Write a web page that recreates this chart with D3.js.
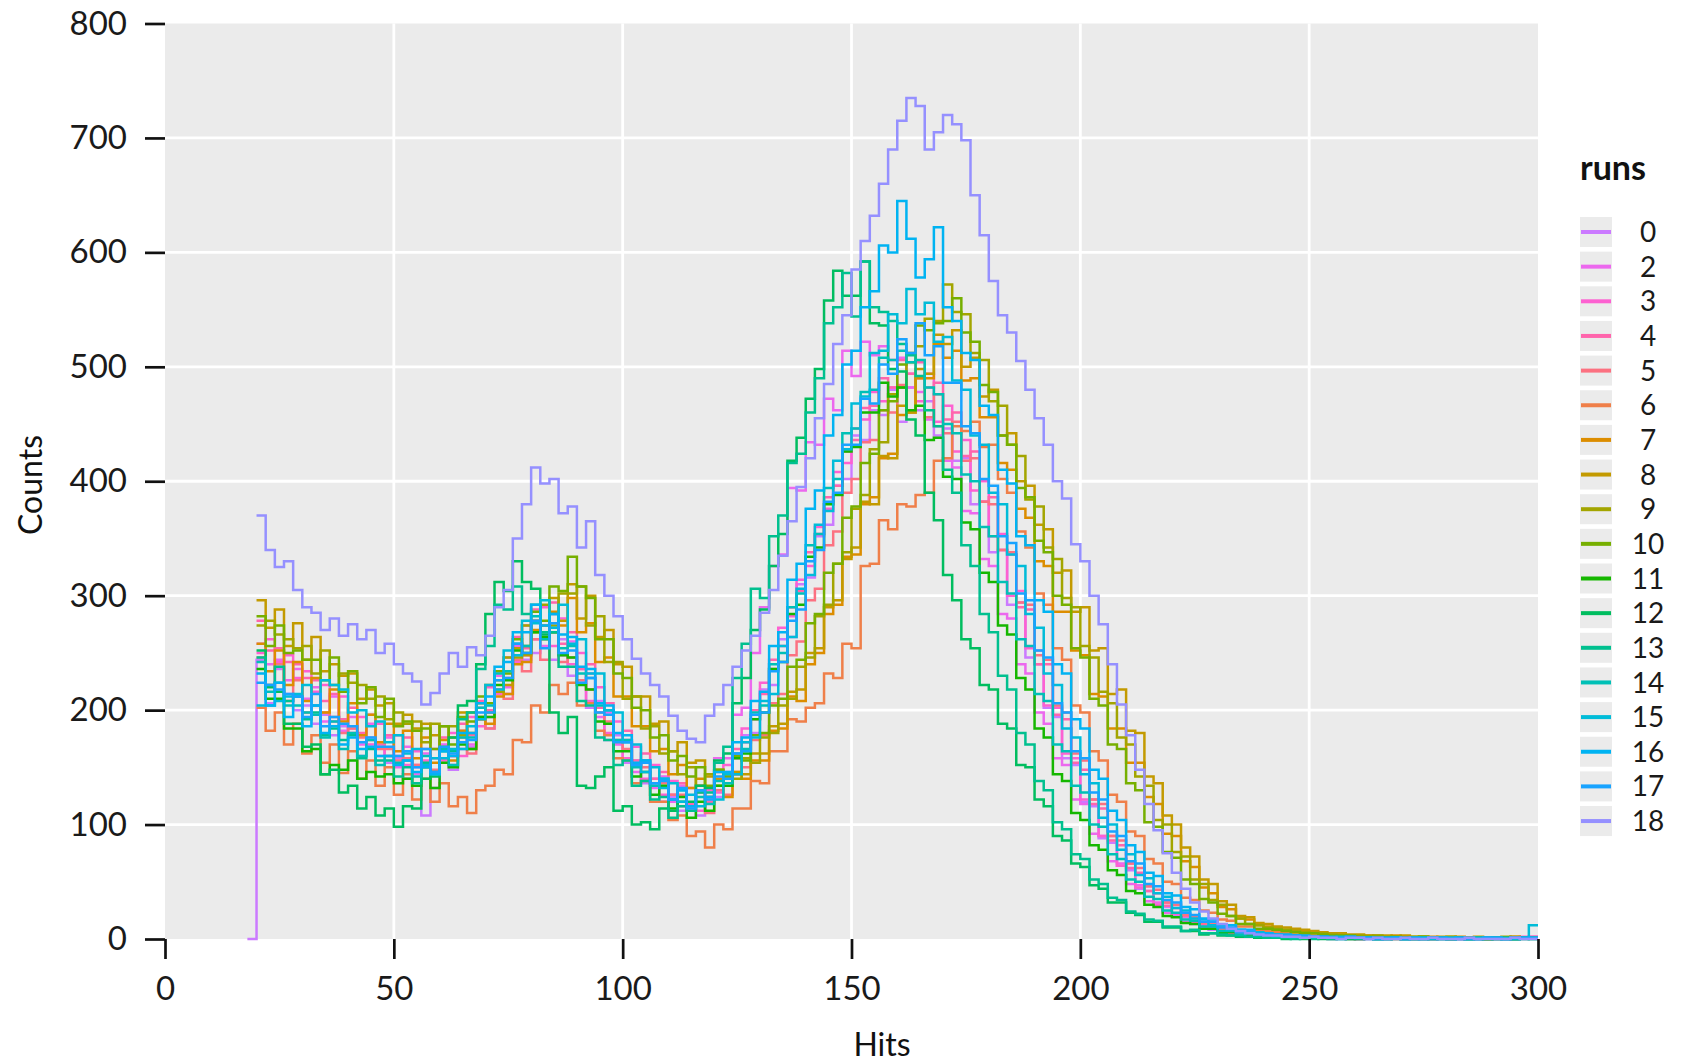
<!DOCTYPE html>
<html><head><meta charset="utf-8">
<script src="https://cdn.jsdelivr.net/npm/d3@7"></script>
<style>
body{margin:0;background:#fff}
svg{display:block}
text{font-family:Lato,"DejaVu Sans",sans-serif}
</style></head>
<body><svg id="c" width="1684" height="1062"></svg>
<script>
// ---- data ----
const runs = ["0","2","3","4","5","6","7","8","9","10","11","12","13","14","15","16","17","18"];
const runHues = [287,307,327,347,7,27,47,67,87,107,127,147,167,187,207,227,247,267];
const binStarts = [18,20,20,20,20,20,20,20,20,20,20,20,20,20,20,20,20,20];
const binWidth = 2;
const xTicks = [0,50,100,150,200,250,300];
const yTicks = [0,100,200,300,400,500,600,700,800];

const run0 = [0,
244,206,236,214,200,204,188,196,178,186,
184,160,176,168,154,158,140,150,108,132,
158,148,166,168,194,184,218,214,248,244,
250,274,244,262,230,236,202,208,174,178,
154,156,136,140,120,124,112,118,108,122,
124,146,144,178,180,218,222,262,264,310,
316,352,362,396,402,440,436,462,458,480,
452,482,462,470,440,446,418,420,380,382,
338,340,292,294,246,240,202,194,158,152,
120,116,88,84,64,60,44,42,30,28,
20,19,13,12,8,9,5,6,3,4,
3,2,2,2,1,2,1,1,1,0,1,1,0,1,1,0,1,0,1,1,0,0,1,1,0,1,0,1,1,2];
const run2 = [
258,240,244,226,236,210,220,190,212,182,
194,170,188,160,176,150,168,144,162,146,
170,152,182,170,202,194,230,220,256,248,
278,256,284,248,260,224,232,194,198,170,
174,146,156,132,142,120,134,116,130,124,
158,158,196,202,250,290,326,336,394,392,
434,432,472,462,514,492,522,510,518,506,
508,482,478,454,448,418,412,374,372,332,
326,284,280,240,232,198,188,158,152,122,
118,92,90,68,66,48,47,33,32,23,
22,15,14,10,10,6,7,4,5,3,
2,3,2,1,2,1,1,0,1,1,1,0,0,1,1,0,1,0,0,1,1,0,1,0,0,1,1,0,1,1];
const run3 = [
250,262,242,248,228,234,216,222,190,212,
180,194,170,188,160,178,152,164,156,166,
156,180,160,194,186,220,214,246,242,274,
262,290,256,280,240,250,208,220,180,190,
158,168,140,152,126,138,116,132,112,130,
128,152,158,184,192,224,236,272,282,314,
326,360,376,408,416,446,454,478,470,482,
482,494,470,494,452,466,426,436,392,400,
352,354,300,304,254,252,204,202,162,158,
122,122,90,90,64,66,45,46,30,32,
22,21,14,14,9,10,5,7,4,4,
3,2,3,2,1,2,1,1,2,1,0,1,1,0,1,1,0,1,0,1,0,1,1,0,1,0,0,1,2,1];
const run4 = [
278,252,254,242,240,228,226,208,214,192,
202,180,196,170,178,160,176,152,166,158,
176,160,188,178,208,200,234,228,264,254,
288,264,294,258,268,236,240,202,206,174,
182,156,162,140,146,126,136,118,134,120,
146,144,166,172,200,214,244,256,290,304,
338,354,386,396,426,436,464,466,490,482,
506,494,504,482,486,454,460,422,426,382,
386,340,336,290,288,240,240,196,192,154,
148,118,114,86,82,62,58,42,40,29,
27,20,18,13,12,8,8,5,5,4,
3,3,2,2,2,1,1,2,1,1,0,1,1,1,0,1,0,1,1,0,0,1,0,1,1,0,1,0,1,2];
const run5 = [
246,222,240,208,226,198,204,198,194,180,
184,176,174,166,166,156,158,152,154,148,
158,160,176,162,192,184,218,210,244,234,
262,244,268,242,246,226,218,198,190,172,
166,152,150,134,136,126,126,112,128,110,
130,126,146,150,174,178,206,214,248,260,
296,306,344,356,390,402,434,436,462,460,
484,462,490,456,476,442,452,418,420,382,
380,340,338,294,292,248,244,204,198,162,
156,122,118,90,86,66,62,46,43,32,
30,21,19,14,13,9,9,5,6,4,
3,3,2,2,1,2,1,1,1,1,0,1,1,0,1,0,1,1,0,1,0,0,1,1,0,1,0,1,1,1];
const run6 = [
202,182,198,170,188,162,178,154,170,145,
164,140,156,134,150,126,144,122,140,120,
136,116,124,110,130,134,148,144,174,172,
204,198,222,214,224,204,206,182,178,158,
156,136,138,120,120,104,108,90,94,80,
100,96,114,114,138,136,164,164,192,190,
202,206,232,228,258,254,326,328,366,358,
380,378,388,390,418,420,448,444,452,430,
432,402,390,356,342,302,292,254,244,204,
198,164,156,126,120,94,90,70,66,50,
48,36,34,25,23,17,16,11,11,7,
7,6,5,4,4,3,3,2,3,2,2,1,2,1,1,2,1,1,0,1,1,1,0,1,0,1,1,0,1,1];
const run7 = [
258,234,252,222,242,208,228,198,218,190,
206,178,196,172,188,164,182,158,176,154,
174,156,182,166,192,188,212,214,240,242,
270,262,286,274,298,268,276,242,246,212,
212,186,186,164,166,144,152,132,140,124,
140,124,144,140,156,156,182,184,212,208,
240,250,284,292,334,336,380,386,420,424,
458,460,490,490,520,508,514,488,490,456,
456,416,410,376,368,330,326,286,286,252,
248,214,212,184,184,154,154,124,118,92,
90,68,63,45,40,28,26,18,17,12,
11,10,8,7,6,6,5,4,4,3,3,3,2,2,3,2,1,2,2,1,1,2,1,1,0,1,1,2,1,1];
const run8 = [
296,272,288,256,276,244,264,234,240,230,
232,210,218,204,206,188,196,184,188,178,
186,176,198,180,206,198,226,222,254,248,
278,274,298,278,310,280,300,264,270,240,
238,212,212,188,190,164,172,154,156,142,
148,142,146,144,162,162,186,188,216,218,
250,254,290,296,332,342,382,380,422,420,
466,460,498,494,528,520,532,500,508,474,
480,440,442,400,396,362,358,320,322,286,
290,252,254,214,218,182,180,142,136,108,
100,80,72,52,48,33,30,20,19,14,
13,11,10,9,8,7,6,5,5,4,4,3,3,3,2,3,2,2,1,2,2,1,1,2,1,1,1,2,1,1];
const run9 = [
274,278,266,262,254,256,232,252,222,232,
224,222,210,212,192,198,188,190,172,188,
168,186,178,198,194,222,216,246,246,274,
268,292,274,302,302,308,274,282,242,242,
210,212,184,186,162,164,144,150,134,144,
134,140,140,158,154,176,180,204,210,238,
246,282,292,328,338,376,388,428,434,476,
482,512,518,542,540,572,548,546,512,506,
470,466,432,422,384,378,342,332,298,290,
256,246,216,206,176,170,142,134,104,100,
76,72,52,48,34,30,20,18,13,12,
10,9,8,7,6,5,5,4,3,3,3,2,3,2,2,1,2,2,1,1,2,1,1,1,0,1,2,1,1,1];
const run10 = [
282,256,274,250,252,244,244,226,246,216,
234,206,220,194,210,186,190,182,184,166,
186,170,194,190,212,206,234,232,262,256,
286,278,308,304,334,308,298,262,262,232,
228,202,200,176,178,156,160,142,150,134,
148,142,160,156,178,180,204,210,238,244,
276,284,320,328,368,378,416,424,462,470,
502,504,536,532,538,540,560,530,522,484,
478,440,432,394,386,348,338,300,292,254,
246,210,204,170,166,136,130,102,98,76,
71,52,48,35,32,22,20,13,13,9,
9,8,7,6,5,5,4,3,3,3,2,2,2,1,2,1,1,2,1,1,0,1,1,1,0,1,1,1,0,1];
const run11 = [
236,210,210,184,184,164,166,144,152,148,
156,140,146,142,144,136,140,134,150,132,
154,150,170,166,194,194,222,226,252,250,
268,264,268,248,246,222,218,190,188,164,
164,142,146,126,134,114,124,106,120,112,
134,134,158,162,192,198,236,242,284,292,
334,342,380,388,426,430,460,460,486,474,
482,462,466,436,438,404,402,364,358,320,
312,274,266,228,218,184,176,144,138,110,
104,82,78,60,56,42,40,30,28,20,
19,14,13,9,9,5,6,3,4,2,
2,2,2,1,1,1,2,1,1,0,1,1,0,1,0,1,0,0,1,1,0,1,0,1,0,0,1,0,1,1];
const run12 = [
252,220,216,188,188,168,170,144,148,128,
134,114,124,108,114,98,116,114,140,142,
166,176,204,208,240,284,312,304,330,312,
306,266,198,180,194,134,132,142,150,112,
116,100,102,96,114,112,120,120,134,132,
156,162,206,228,270,288,326,354,418,438,
472,498,558,584,562,562,592,538,536,498,
496,454,440,390,366,318,296,262,254,222,
218,188,184,152,150,122,116,90,86,66,
63,47,44,32,32,23,21,15,15,10,
10,7,7,4,5,3,3,2,2,1,
1,1,0,1,0,1,0,0,1,0,0,1,0,0,1,0,0,0,1,0,0,1,0,0,0,1,0,0,1,0];
const run13 = [
246,222,238,208,212,192,198,178,184,174,
178,158,166,156,156,142,150,136,154,146,
164,164,192,198,236,256,292,288,308,284,
292,268,268,238,238,208,204,176,174,152,
156,134,138,122,124,106,116,112,128,128,
154,168,228,258,306,298,352,370,416,424,
460,490,538,552,582,544,592,552,548,540,
520,510,492,462,448,410,390,344,326,284,
268,230,218,180,170,138,130,102,96,74,
70,52,48,36,34,24,22,17,16,11,
11,7,8,5,5,4,3,3,2,2,
1,1,1,0,1,0,1,0,0,1,0,1,0,0,1,0,0,1,0,0,0,1,0,0,1,0,0,0,1,0];
const run14 = [
242,216,224,204,204,198,196,176,190,166,
180,160,174,152,160,154,156,142,160,144,
166,152,176,176,202,204,232,234,258,256,
282,262,284,254,256,232,228,204,200,174,
174,150,156,134,140,122,130,116,124,118,
138,136,162,166,198,204,240,250,290,302,
344,354,394,402,442,446,478,480,508,506,
514,504,506,482,476,450,442,406,400,360,
352,312,302,262,256,214,208,170,164,134,
128,100,98,74,70,52,50,37,35,25,
23,17,16,11,11,7,7,4,5,3,
3,2,2,1,2,1,1,1,0,1,1,0,1,0,1,0,1,0,0,1,1,0,0,1,0,1,0,0,1,1];
const run15 = [
204,204,208,212,214,222,204,226,222,218,
198,200,186,190,172,178,162,166,152,158,
158,166,166,186,192,222,218,252,248,278,
276,296,272,292,258,262,232,232,200,198,
172,170,146,150,132,136,120,126,116,124,
122,144,144,172,176,208,214,256,264,306,
318,362,374,418,428,468,474,512,514,546,
538,568,546,556,522,526,488,480,440,432,
390,380,336,326,284,272,232,222,184,176,
144,136,106,100,78,74,56,53,40,37,
27,25,18,17,12,12,8,8,5,6,
4,4,3,3,2,2,2,1,2,1,1,1,0,1,1,0,1,1,0,1,0,1,0,1,1,0,1,0,1,12];
const run16 = [
232,204,224,194,212,186,204,180,186,170,
176,166,168,160,160,152,156,146,150,144,
164,160,180,180,206,212,238,242,268,268,
292,274,284,266,264,238,236,206,204,180,
178,154,156,136,140,122,130,116,130,124,
146,146,172,176,208,216,256,268,314,328,
376,392,440,458,502,514,552,566,606,600,
645,612,578,594,622,552,540,512,506,466,
458,410,398,352,344,296,286,240,232,192,
184,148,140,112,104,82,76,58,55,40,
38,28,26,18,17,12,12,8,8,5,
5,4,4,3,3,2,2,2,1,2,1,1,1,0,1,1,0,1,1,0,1,0,1,0,1,1,0,1,0,1];
const run17 = [
224,222,218,214,212,194,214,186,194,188,
186,172,176,168,168,160,164,150,166,146,
168,162,172,174,198,198,226,228,258,250,
278,254,276,250,252,224,228,198,196,172,
172,152,154,136,138,122,132,114,130,122,
142,140,162,164,196,198,234,242,278,288,
330,340,382,390,432,432,472,468,502,494,
524,512,538,510,518,486,486,448,442,402,
396,352,346,302,296,252,246,206,198,164,
158,128,122,94,90,68,66,48,46,34,
32,23,21,15,15,10,10,6,7,4,
4,3,3,3,2,2,2,1,1,2,1,1,0,1,1,0,1,0,1,1,0,1,0,0,1,1,0,1,1,1];
const run18 = [
370,340,325,330,305,290,285,270,280,265,
275,262,270,250,258,240,232,225,205,215,
232,250,238,255,248,265,290,305,350,380,
412,398,402,372,378,342,365,318,300,282,
262,245,232,222,212,195,182,175,172,195,
205,222,238,252,265,285,305,335,365,395,
420,455,485,520,545,585,610,632,660,690,
715,735,728,690,705,720,712,698,650,615,
575,545,530,505,480,455,432,400,385,345,
330,300,275,240,205,178,148,118,95,75,
58,44,32,24,18,13,9,7,5,4,
3,3,2,2,1,2,1,1,0,1,1,0,1,0,0,1,0,0,1,0,0,0,1,0,0,0,0,1,0,0];

const seriesValues = [run0,run2,run3,run4,run5,run6,run7,run8,run9,run10,run11,run12,run13,run14,run15,run16,run17,run18];

// ---- colour: R's hcl() (polar LUV) ----
function hclR(h, c, l) {
  const rad = h * Math.PI / 180;
  const U = c * Math.cos(rad), V = c * Math.sin(rad);
  const Xn = 95.047, Yn = 100, Zn = 108.883;
  const Y = l > 8 ? Yn * Math.pow((l + 16) / 116, 3) : Yn * l / 903.3;
  const d = Xn + 15 * Yn + 3 * Zn;
  const un = 4 * Xn / d, vn = 9 * Yn / d;
  const u = U / (13 * l) + un, v = V / (13 * l) + vn;
  const X = 9 * Y * u / (4 * v);
  const Z = Y * (12 - 3 * u - 20 * v) / (4 * v);
  const x = X / 100, y = Y / 100, z = Z / 100;
  let r = 3.240479 * x - 1.537150 * y - 0.498535 * z;
  let g = -0.969256 * x + 1.875992 * y + 0.041556 * z;
  let b = 0.055648 * x - 0.204043 * y + 1.057311 * z;
  const gam = t => { t = t <= 0.0031308 ? 12.92 * t : 1.055 * Math.pow(t, 1 / 2.4) - 0.055; return Math.max(0, Math.min(1, t)); };
  return d3.rgb(gam(r) * 255, gam(g) * 255, gam(b) * 255).formatHex();
}
const colors = runHues.map(h => hclR(h, 100, 65));

// ---- layout ----
const svg = d3.select("#c");
const X0 = 165, X1 = 1538, Y0 = 939, Y1 = 23.5;
const x = d3.scaleLinear().domain([0, 300]).range([X0, X1]);
const y = d3.scaleLinear().domain([0, 800]).range([Y0, Y1]);

svg.append("rect").attr("x", X0).attr("y", Y1).attr("width", X1 - X0).attr("height", Y0 - Y1).attr("fill", "#ebebeb");

const grid = svg.append("g").attr("stroke", "#ffffff").attr("stroke-width", 2.8);
yTicks.slice(1, -1).forEach(t => grid.append("line").attr("x1", X0).attr("x2", X1).attr("y1", y(t)).attr("y2", y(t)));
xTicks.slice(1, -1).forEach(t => grid.append("line").attr("y1", Y1).attr("y2", Y0).attr("x1", x(t)).attr("x2", x(t)));

svg.append("clipPath").attr("id", "clip").append("rect")
  .attr("x", X0).attr("y", Y1 - 2).attr("width", X1 - X0 + 2).attr("height", Y0 - Y1 + 4);

const line = d3.line().x(d => x(d[0])).y(d => y(d[1])).curve(d3.curveStepAfter);
const lines = svg.append("g").attr("clip-path", "url(#clip)");
seriesValues.forEach((vals, i) => {
  const s = binStarts[i];
  const pts = vals.map((v, k) => [s + k * binWidth, v]);
  pts.push([300, vals[vals.length - 1]]);
  lines.append("path").attr("d", line(pts)).attr("fill", "none")
    .attr("stroke", colors[i]).attr("stroke-width", 2.5).attr("stroke-linejoin", "miter");
});

// ---- axes ----
const ya = svg.append("g").attr("transform", `translate(${X0},0)`)
  .call(d3.axisLeft(y).tickValues(yTicks).tickSize(20).tickPadding(18));
const xa = svg.append("g").attr("transform", `translate(0,${Y0})`)
  .call(d3.axisBottom(x).tickValues(xTicks).tickSize(20).tickPadding(18));
[ya, xa].forEach(a => {
  a.select(".domain").remove();
  a.selectAll(".tick line").attr("stroke", "#111").attr("stroke-width", 2.7);
  a.selectAll(".tick text").attr("fill", "#1a1a1a").style("font-size", "33px").style("font-family", "Lato");
});

svg.append("text").attr("transform", "translate(42,485) rotate(-90)").attr("text-anchor", "middle")
  .style("font-size", "32px").attr("fill", "#111").text("Counts");
svg.append("text").attr("x", 882).attr("y", 1056).attr("text-anchor", "middle")
  .style("font-size", "32px").attr("fill", "#111").text("Hits");

// ---- legend ----
const lg = svg.append("g");
lg.append("text").attr("x", 1580).attr("y", 180).style("font-size", "34px").style("font-weight", "bold")
  .attr("fill", "#111").text("runs");
runs.forEach((r, i) => {
  const cy = 232 + i * 34.65;
  lg.append("rect").attr("x", 1580).attr("y", cy - 15).attr("width", 32).attr("height", 30).attr("fill", "#ebebeb");
  lg.append("line").attr("x1", 1581).attr("x2", 1611).attr("y1", cy).attr("y2", cy)
    .attr("stroke", colors[i]).attr("stroke-width", 4);
  lg.append("text").attr("x", 1648).attr("y", cy).attr("dy", "0.36em").attr("text-anchor", "middle")
    .style("font-size", "28px").attr("fill", "#1a1a1a").text(r);
});
</script></body></html>
